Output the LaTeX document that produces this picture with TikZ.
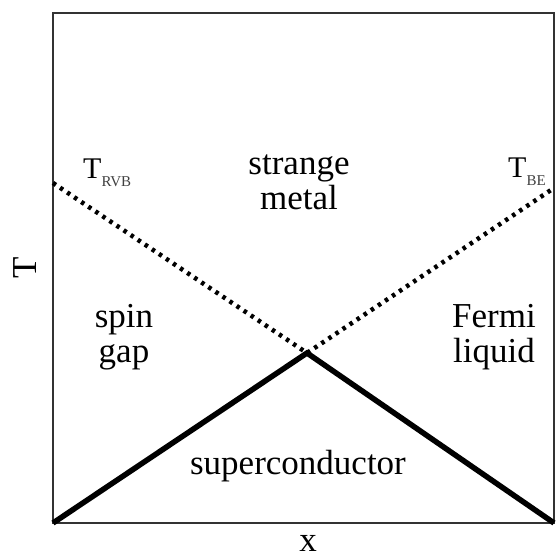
\documentclass[tikz,border=0pt]{standalone}
\usepackage{fontspec}
\setmainfont{Liberation Serif}
\newcommand{\subtemp}[1]{\raisebox{-8pt}{\color{black!75}\fontsize{15}{15}\selectfont #1}}
\begin{document}
\begin{tikzpicture}[
    x=1pt, y=1pt,
    every node/.style={
        inner sep=0pt,
        align=center,
        font=\fontsize{35}{35}\selectfont
    },
    frame/.style={line width=1.5pt, draw=black!80},
    crossover/.style={line width=4.5pt, dash pattern=on 3.5pt off 5pt},
    phaseline/.style={line width=5.5pt, line join=miter}
]
\useasboundingbox (0,0) rectangle (555,559);

% Corners and crossing point
\coordinate (lo) at (53,36);
\coordinate (ro) at (554,36);
\coordinate (lt) at (53,376);
\coordinate (rt) at (554,371);
\coordinate (qcp) at (307,206);

% Frame
\draw[frame] (53,36) rectangle (554,546);

% Nodes
\node (strange) [anchor=base] at (299,349) {strange\\metal};
\node (spingap) [anchor=base] at (124,196) {spin\\gap};
\node (fermi) [anchor=base] at (494,196) {Fermi\\liquid};
\node (sc) [anchor=base] at (298,84) {superconductor};
\node (trvb) [anchor=base west, font=\fontsize{30}{30}\selectfont] at (83,380) {T\subtemp{RVB}};
\node (tbe) [anchor=base west, font=\fontsize{30}{30}\selectfont] at (508,381) {T\subtemp{BE}};
\node (ylab) [rotate=90, anchor=base] at (36,291) {T};
\node (xlab) [anchor=base] at (308,8) {x};

% Lines
\draw[crossover] (lt) -- (qcp) -- (rt);
\draw[phaseline] (lo) -- (qcp) -- (ro);

\end{tikzpicture}
\end{document}
